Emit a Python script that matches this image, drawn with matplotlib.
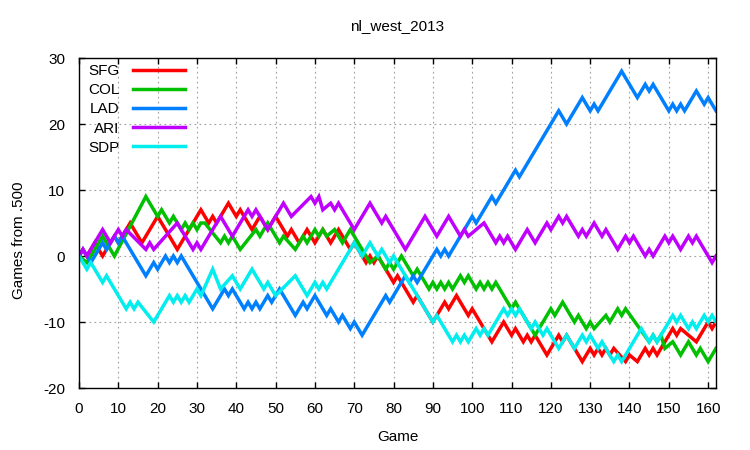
import matplotlib
matplotlib.use("Agg")
import matplotlib.pyplot as plt

plt.rcParams['font.family'] = ['Liberation Sans', 'DejaVu Sans']
plt.rcParams['font.size'] = 11
plt.rcParams['axes.unicode_minus'] = False

# turning points of each team's games-over-.500 walk
sfg_g = [0, 1, 2, 4, 6, 9, 10, 13, 16, 20, 25, 31, 33, 34, 35, 38, 40, 41, 44, 46,
         48, 50, 53, 54, 56, 58, 60, 62, 64, 66, 69, 70, 73, 74, 75, 76, 80, 81, 85, 86,
         90, 93, 94, 96, 99, 100, 105, 108, 110, 111, 113, 114, 115, 116, 119, 122, 123, 124, 128, 130,
         131, 132, 133, 134, 135, 136, 139, 140, 142, 144, 145, 146, 147, 151, 152, 153, 157, 160, 161, 162]
sfg_v = [0, 1, 0, 2, 0, 3, 2, 5, 2, 6, 1, 7, 5, 6, 5, 8, 6, 7, 4, 6,
         4, 6, 3, 4, 2, 4, 2, 4, 2, 4, 1, 2, -1, 0, -1, 0, -4, -3, -7, -6,
         -10, -7, -8, -6, -9, -8, -13, -10, -12, -11, -13, -12, -13, -12, -15, -12, -13, -12, -16, -14,
         -15, -14, -15, -14, -15, -14, -16, -15, -16, -14, -15, -14, -15, -11, -12, -11, -13, -10, -11, -10]

col_g = [0, 2, 6, 9, 17, 20, 21, 23, 24, 26, 27, 28, 29, 30, 31, 32, 36, 37, 38, 39,
         41, 45, 46, 48, 51, 52, 55, 57, 58, 60, 61, 62, 63, 65, 67, 69, 74, 76, 78, 79,
         80, 82, 85, 86, 89, 90, 91, 92, 93, 94, 95, 97, 98, 99, 101, 102, 103, 104, 105, 106,
         110, 111, 112, 116, 120, 121, 123, 126, 127, 129, 130, 131, 134, 135, 137, 138, 139, 145, 146, 147,
         148, 149, 151, 153, 155, 157, 158, 160, 162]
col_v = [0, -1, 3, 0, 9, 6, 7, 5, 6, 4, 5, 4, 5, 4, 5, 5, 2, 3, 2, 3,
         1, 4, 3, 5, 2, 3, 1, 3, 2, 4, 3, 4, 3, 4, 2, 4, -1, 0, -2, -1,
         -2, 0, -3, -2, -5, -4, -5, -4, -5, -4, -5, -3, -4, -3, -5, -4, -5, -4, -5, -4,
         -8, -7, -8, -12, -8, -9, -7, -10, -9, -11, -10, -11, -9, -10, -8, -9, -8, -13, -12, -13,
         -12, -14, -13, -15, -13, -15, -14, -16, -14]

lad_g = [0, 1, 3, 6, 7, 9, 10, 11, 17, 19, 20, 22, 23, 24, 25, 26, 34, 37, 38, 39,
         42, 43, 44, 45, 46, 48, 49, 50, 51, 55, 57, 58, 60, 63, 64, 66, 67, 69, 70, 72,
         78, 79, 83, 84, 85, 86, 87, 91, 92, 93, 94, 100, 101, 105, 106, 111, 112, 122, 124, 128,
         130, 131, 132, 138, 142, 144, 145, 146, 150, 151, 152, 153, 154, 157, 159, 160, 162]
lad_v = [0, 1, -1, 2, 1, 3, 2, 3, -3, -1, -2, 0, -1, 0, -1, 0, -8, -5, -6, -5,
         -8, -7, -8, -7, -8, -6, -7, -6, -5, -9, -7, -8, -6, -9, -8, -10, -9, -11, -10, -12,
         -6, -7, -3, -4, -3, -4, -3, 1, 0, 1, 0, 6, 5, 9, 8, 13, 12, 22, 20, 24,
         22, 23, 22, 28, 24, 26, 25, 26, 22, 23, 22, 23, 22, 25, 23, 24, 22]

ari_g = [0, 1, 2, 6, 8, 10, 11, 12, 17, 18, 19, 25, 29, 30, 31, 36, 39, 43, 44, 45,
         48, 52, 54, 59, 60, 61, 62, 64, 65, 66, 70, 74, 77, 78, 83, 88, 91, 94, 97, 98,
         99, 103, 106, 107, 108, 109, 111, 114, 116, 119, 120, 122, 123, 124, 127, 128, 129, 131, 133, 134,
         137, 139, 140, 141, 144, 145, 146, 149, 150, 151, 153, 155, 156, 157, 161, 162]
ari_v = [0, 1, 0, 4, 2, 4, 3, 4, 1, 2, 1, 5, 1, 2, 1, 6, 3, 7, 6, 7,
         4, 8, 6, 9, 8, 9, 7, 8, 7, 8, 4, 8, 5, 6, 1, 6, 3, 6, 3, 4,
         3, 5, 2, 3, 2, 3, 1, 4, 2, 5, 4, 6, 5, 6, 3, 4, 3, 5, 3, 4,
         1, 3, 2, 3, 0, 1, 0, 3, 2, 3, 1, 3, 2, 3, -1, 0]

sdp_g = [0, 2, 3, 6, 7, 12, 13, 14, 15, 19, 23, 24, 25, 26, 27, 28, 30, 31, 34, 36,
         39, 41, 44, 47, 48, 50, 55, 58, 60, 61, 62, 63, 70, 72, 74, 76, 77, 79, 80, 90,
         91, 95, 96, 97, 98, 99, 101, 102, 103, 104, 108, 109, 110, 111, 112, 115, 116, 118, 119, 120,
         122, 124, 126, 128, 129, 130, 132, 133, 136, 137, 138, 143, 145, 146, 147, 151, 152, 153, 155, 156,
         157, 159, 160, 161, 162]
sdp_v = [0, -2, -1, -4, -3, -8, -7, -8, -7, -10, -6, -7, -6, -7, -6, -7, -5, -6, -2, -5,
         -3, -5, -2, -5, -4, -6, -3, -6, -4, -5, -4, -5, 2, 0, 2, 0, 1, -1, 0, -10,
         -9, -13, -12, -13, -12, -13, -11, -12, -11, -12, -8, -9, -8, -9, -8, -11, -10, -12, -11, -12,
         -14, -12, -14, -12, -13, -12, -14, -13, -16, -15, -16, -11, -13, -12, -13, -9, -10, -9, -11, -10,
         -11, -9, -10, -9, -10]

teams = ['SFG', 'COL', 'LAD', 'ARI', 'SDP']
colors = ['#ff0000', '#00c000', '#0080ff', '#c000ff', '#00eeee']
series = [(sfg_g, sfg_v), (col_g, col_v), (lad_g, lad_v), (ari_g, ari_v), (sdp_g, sdp_v)]

fig = plt.figure(figsize=(7.5, 4.5), dpi=100)
ax = fig.add_axes([79 / 750, 1 - 388 / 450, 637 / 750, 330 / 450])

for name, col, (g, v) in zip(teams, colors, series):
    ax.plot(g, v, color=col, linewidth=2.5, label=name, solid_joinstyle='miter')

ax.set_xlim(0, 162)
ax.set_ylim(-20, 30)
ax.set_xticks(range(0, 161, 10))
ax.set_yticks(range(-20, 31, 10))
ax.tick_params(direction='in', length=4, width=1, top=True, right=True,
               pad=10, labelsize=11)
ax.grid(True, color='#a0a0a0', linewidth=0.8, linestyle=(0, (1.5, 3)))
for s in ax.spines.values():
    s.set_linewidth(1)

ax.set_xlabel('Game', labelpad=10)
ax.set_ylabel('Games from .500')
ax.yaxis.set_label_coords(-0.083, (388 - 240) / 330)
ax.set_title('nl_west_2013', pad=20, fontsize=11)

ax.legend(loc='upper left', bbox_to_anchor=(9 / 637, 1 - 6 / 330), markerfirst=False,
          frameon=False, handlelength=3.4, handletextpad=0.9, labelspacing=0.34,
          borderpad=0, borderaxespad=0)

fig.savefig('out.png', dpi=100)
plt.close()
